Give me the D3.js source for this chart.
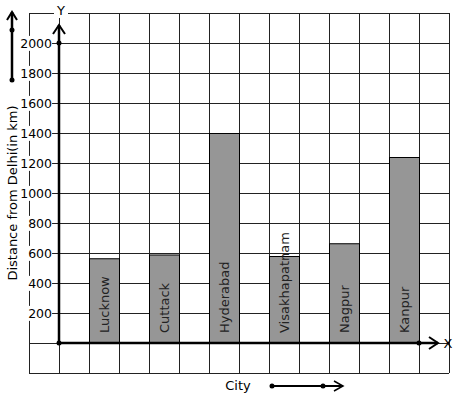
<!DOCTYPE html>
<html>
<head>
<meta charset="utf-8">
<script src="https://cdn.jsdelivr.net/npm/d3@7"></script>
<style>
  body { margin: 0; background: #fff; }
  svg { display: block; font-family: "DejaVu Sans", sans-serif; }
</style>
</head>
<body>
<svg width="457" height="399"></svg>
<script>
const cities = ["Lucknow", "Cuttack", "Hyderabad", "Visakhapatnam", "Nagpur", "Kanpur"];
const distances = [565, 590, 1400, 580, 665, 1240];
const yTicks = [200, 400, 600, 800, 1000, 1200, 1400, 1600, 1800, 2000];

const svg = d3.select("svg");

// scales
const x = d3.scaleBand().domain(cities).range([59, 449]).paddingInner(0.5).paddingOuter(0.5);
const y = d3.scaleLinear().domain([0, 2000]).range([343, 43]);
const gx = d3.scaleLinear().domain([0, 14]).range([29, 449]);

// grid
const grid = svg.append("g").attr("stroke", "#222").attr("stroke-width", 1);
grid.selectAll(".vline").data(d3.range(15)).enter().append("line")
  .attr("x1", d => gx(d) + 0.5).attr("x2", d => gx(d) + 0.5)
  .attr("y1", y(2200)).attr("y2", y(-200));
grid.selectAll(".hline").data(d3.range(-200, 2201, 200)).enter().append("line")
  .attr("y1", d => y(d) + 0.5).attr("y2", d => y(d) + 0.5)
  .attr("x1", gx(0)).attr("x2", gx(14));

// bars
svg.selectAll(".bar").data(cities).enter().append("rect")
  .attr("class", "bar")
  .attr("x", d => x(d) + 0.5)
  .attr("y", (d, i) => y(distances[i]) + 0.5)
  .attr("width", x.bandwidth())
  .attr("height", (d, i) => y(0) - y(distances[i]))
  .attr("fill", "#969696")
  .attr("stroke", "#000");

svg.selectAll(".blabel").data(cities).enter().append("text")
  .attr("transform", d => "translate(" + (x(d) + x.bandwidth() / 2 + 5) + "," + (y(0) - 10) + ") rotate(-90)")
  .attr("font-size", 13)
  .attr("fill", "#222")
  .text(d => d);

// y axis ticks + labels
const yAxis = svg.append("g").attr("transform", "translate(59,0)")
  .call(d3.axisLeft(y).tickValues(yTicks).tickSize(7).tickPadding(0).tickFormat(d3.format("d")));
yAxis.select(".domain").remove();
yAxis.selectAll(".tick line").attr("stroke", "#222");
yAxis.selectAll(".tick text").attr("font-size", 12.5).attr("fill", "#000")
  .attr("font-family", "DejaVu Sans").attr("dy", "0.35em");
yAxis.selectAll(".tick").each(function () {
  const t = d3.select(this).select("text");
  const b = t.node().getBBox();
  d3.select(this).insert("rect", "text")
    .attr("x", b.x - 1).attr("y", b.y).attr("width", b.width + 1).attr("height", b.height)
    .attr("fill", "#fff");
});

// axes
const axes = svg.append("g").attr("stroke", "#000").attr("fill", "none").attr("stroke-width", 2.5);
axes.append("line").attr("x1", 59).attr("x2", 59).attr("y1", y(0)).attr("y2", 25);
axes.append("path").attr("d", "M53,34L59,25L65,34").attr("stroke-width", 2);
axes.append("line").attr("x1", 59).attr("x2", 438).attr("y1", y(0)).attr("y2", y(0));
axes.append("path").attr("d", "M429,337L438,343L429,349").attr("stroke-width", 2);

svg.selectAll(".dot").data([[59, y(0)], [59, y(2000)], [419, y(0)]]).enter().append("circle")
  .attr("cx", d => d[0]).attr("cy", d => d[1]).attr("r", 2.5).attr("fill", "#000");

// axis letters
svg.append("rect").attr("x", 54).attr("y", 6).attr("width", 14).attr("height", 12).attr("fill", "#fff");
svg.append("text").attr("x", 61).attr("y", 15).attr("text-anchor", "middle").attr("font-size", 13).text("Y");
svg.append("text").attr("x", 448).attr("y", 348).attr("text-anchor", "middle").attr("font-size", 13).text("X");

// axis titles
svg.append("text")
  .attr("transform", "translate(17,193) rotate(-90)")
  .attr("text-anchor", "middle").attr("font-size", 13)
  .text("Distance from Delhi(in km)");
svg.append("text").attr("x", 238).attr("y", 390).attr("text-anchor", "middle").attr("font-size", 13).text("City");

// decorative direction arrows
const deco = svg.append("g").attr("stroke", "#000").attr("fill", "none").attr("stroke-width", 2.5);
deco.append("line").attr("x1", 12).attr("x2", 12).attr("y1", 80).attr("y2", 12);
deco.append("path").attr("d", "M7,20L12,12L17,20").attr("stroke-width", 2);
deco.append("line").attr("x1", 272).attr("x2", 343).attr("y1", 386).attr("y2", 386).attr("stroke-width", 2);
deco.append("path").attr("d", "M334,381L343,386L334,391").attr("stroke-width", 1.5);
svg.selectAll(".ddot").data([[12, 80], [12, 30], [272, 386], [323, 386]]).enter().append("circle")
  .attr("cx", d => d[0]).attr("cy", d => d[1]).attr("r", 2.5).attr("fill", "#000");
</script>
</body>
</html>
